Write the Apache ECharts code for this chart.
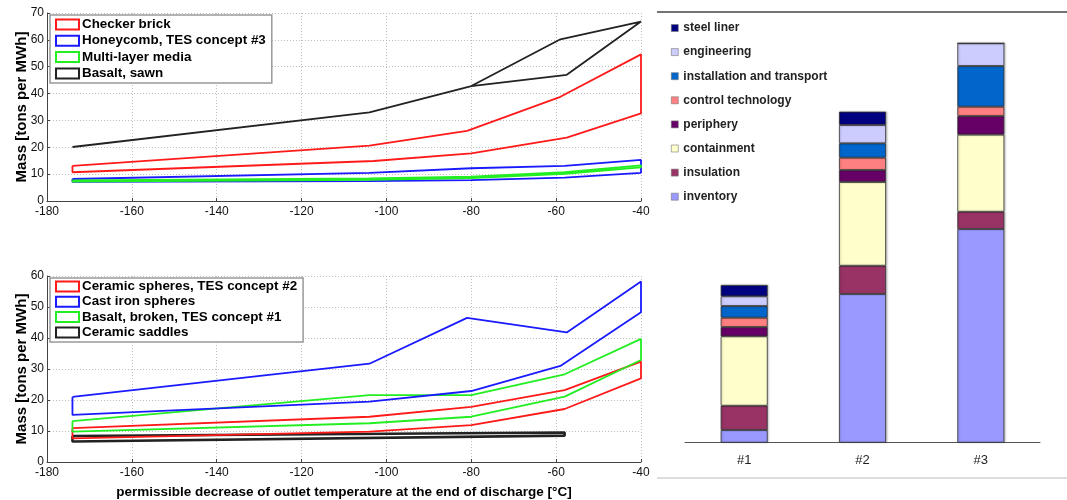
<!DOCTYPE html>
<html><head><meta charset="utf-8">
<script src="https://cdn.jsdelivr.net/npm/echarts@6/dist/echarts.min.js"></script>
<style>html,body{margin:0;padding:0;background:#fff}#c{width:1067px;height:500px}</style>
</head><body><div id="c"></div>
<script>
// ---------- Top-left panel: band outlines (upper edge / lower edge) ----------
const checkerUpX = [-174, -104, -81, -59, -40];
const checkerUpY = [13.1, 20.6, 26.1, 38.8, 54.6];
const checkerLoX = [-174, -103, -80, -57.5, -40];
const checkerLoY = [10.7, 14.9, 17.7, 23.6, 32.6];

const honeyUpX = [-174, -104, -80, -58, -40];
const honeyUpY = [8.2, 10.5, 12.2, 13.1, 15.3];
const honeyLoX = [-174, -104, -80, -58, -40];
const honeyLoY = [7.1, 7.4, 7.8, 8.7, 10.5];

const multiUpX = [-174, -104, -80, -58, -40];
const multiUpY = [7.7, 8.4, 9.1, 10.7, 13.3];
const multiLoX = [-174, -104, -80, -58, -40];
const multiLoY = [7.2, 7.9, 8.5, 10.1, 12.5];

const sawnUpX = [-174, -104, -80, -59, -40];
const sawnUpY = [20.1, 33.0, 42.8, 60.2, 66.8];
const sawnLoX = [-174, -104, -80, -57.5, -40];
const sawnLoY = [20.1, 33.0, 42.8, 47.0, 66.8];

// ---------- Bottom-left panel ----------
const sphereUpX = [-174, -104, -80, -58, -40];
const sphereUpY = [10.9, 14.6, 17.8, 23.2, 32.4];
const sphereLoX = [-174, -104, -80, -58, -40];
const sphereLoY = [7.6, 9.8, 11.9, 17.1, 27.0];

const ironUpX = [-174, -104, -81, -57.5, -40];
const ironUpY = [21.0, 31.7, 46.5, 41.8, 58.2];
const ironLoX = [-174, -104, -80, -59, -40];
const ironLoY = [15.2, 19.5, 22.9, 31.0, 48.3];

const brokenUpX = [-174, -104, -80, -58, -40];
const brokenUpY = [13.2, 21.6, 21.6, 28.3, 39.7];
const brokenLoX = [-174, -104, -80, -58, -40];
const brokenLoY = [9.8, 12.5, 14.6, 21.1, 32.9];

const saddleUpX = [-174, -58];
const saddleUpY = [8.4, 9.5];
const saddleLoX = [-174, -58];
const saddleLoY = [6.6, 8.5];

const topNames = ['Checker brick', 'Honeycomb, TES concept #3', 'Multi-layer media', 'Basalt, sawn'];
const botNames = ['Ceramic spheres, TES concept #2', 'Cast iron spheres', 'Basalt, broken, TES concept #1', 'Ceramic saddles'];

// ---------- Right panel: stacked cost bars (relative heights, no axis shown) ----------
const concepts = ['#1', '#2', '#3'];
const inventory    = [12.7, 148.7, 213.7];
const insulation   = [24.3, 28.3, 17.3];
const containment  = [69.4, 83.7, 77.0];
const periphery    = [9.3, 12.0, 18.7];
const controlTech  = [9.3, 12.3, 9.3];
const installation = [11.7, 14.4, 40.7];
const engineering  = [9.7, 18.3, 22.7];
const steelLiner   = [11.3, 13.3, 0];
const barNames = ['inventory', 'insulation', 'containment', 'periphery', 'control technology', 'installation and transport', 'engineering', 'steel liner'];

const FONT = '"Liberation Sans", Arial, sans-serif';
const RED = '#ff1a1a', BLUE = '#1a1aff', GREEN = '#22ee22', BLACK = '#222222';

function poly(ux, uy, lx, ly) {
  const pts = [];
  for (let i = 0; i < ux.length; i++) pts.push([ux[i], uy[i]]);
  for (let i = lx.length - 1; i >= 0; i--) pts.push([lx[i], ly[i]]);
  pts.push([ux[0], uy[0]]);
  return pts;
}

function bandSeries(name, color, idx, ux, uy, lx, ly, w) {
  return {
    name, type: 'line', xAxisIndex: idx, yAxisIndex: idx,
    data: poly(ux, uy, lx, ly), showSymbol: false, symbol: 'none',
    lineStyle: { color, width: w || 1.8 }, itemStyle: { color },
    silent: true, animation: false
  };
}

function leftX(idx, withName) {
  const ax = {
    type: 'value', gridIndex: idx, min: -180, max: -40, interval: 20,
    axisLine: { show: true, onZero: false, lineStyle: { color: '#444', width: 1 } },
    axisTick: { show: true, inside: true, length: 3, lineStyle: { color: '#444' } },
    axisLabel: { fontFamily: FONT, fontSize: 12, color: '#111', margin: 5 },
    splitLine: { show: true, lineStyle: { color: '#bdbdbd', type: [1, 2], width: 1 } }
  };
  if (withName) {
    ax.name = 'permissible decrease of outlet temperature at the end of discharge [°C]';
    ax.nameLocation = 'middle';
    ax.nameGap = 23;
    ax.nameMoveOverlap = false;
    ax.nameTextStyle = { fontFamily: FONT, fontSize: 13.5, fontWeight: 'bold', color: '#000' };
  }
  return ax;
}
function leftY(idx, max) {
  return {
    type: 'value', gridIndex: idx, min: 0, max, interval: 10,
    name: 'Mass [tons per MWh]', nameLocation: 'middle', nameGap: 18, nameMoveOverlap: false,
    nameTextStyle: { fontFamily: FONT, fontSize: 15, fontWeight: 'bold', color: '#000' },
    axisLine: { show: true, lineStyle: { color: '#444', width: 1 } },
    axisTick: { show: true, inside: true, length: 3, lineStyle: { color: '#444' } },
    axisLabel: { fontFamily: FONT, fontSize: 12, color: '#111', margin: 3 },
    splitLine: { show: true, lineStyle: { color: '#bdbdbd', type: [1, 2], width: 1 } }
  };
}

function legendItems(names, colors) {
  return names.map((n, i) => ({
    name: n, icon: 'rect',
    itemStyle: { color: '#fff', borderColor: colors[i], borderWidth: 2 }
  }));
}

const barColors = {
  'inventory': '#9999ff', 'insulation': '#993366', 'containment': '#ffffcc', 'periphery': '#660066',
  'control technology': '#ff8080', 'installation and transport': '#0066cc', 'engineering': '#ccccff', 'steel liner': '#000080'
};
const barData = [inventory, insulation, containment, periphery, controlTech, installation, engineering, steelLiner];

const series = [
  bandSeries(topNames[0], RED, 0, checkerUpX, checkerUpY, checkerLoX, checkerLoY),
  bandSeries(topNames[1], BLUE, 0, honeyUpX, honeyUpY, honeyLoX, honeyLoY),
  bandSeries(topNames[2], GREEN, 0, multiUpX, multiUpY, multiLoX, multiLoY),
  bandSeries(topNames[3], BLACK, 0, sawnUpX, sawnUpY, sawnLoX, sawnLoY),
  bandSeries(botNames[3], BLACK, 1, saddleUpX, saddleUpY, saddleLoX, saddleLoY, 2.6),
  bandSeries(botNames[0], RED, 1, sphereUpX, sphereUpY, sphereLoX, sphereLoY),
  bandSeries(botNames[2], GREEN, 1, brokenUpX, brokenUpY, brokenLoX, brokenLoY),
  bandSeries(botNames[1], BLUE, 1, ironUpX, ironUpY, ironLoX, ironLoY)
];
barNames.forEach((n, i) => {
  series.push({
    name: n, type: 'bar', stack: 'cost', xAxisIndex: 2, yAxisIndex: 2,
    barWidth: 47, data: barData[i], animation: false,
    itemStyle: { color: barColors[n], borderColor: '#333', borderWidth: 0.8,
      shadowColor: 'rgba(0,0,0,0.25)', shadowBlur: 2, shadowOffsetX: 1, shadowOffsetY: 0 }
  });
});

const chart = echarts.init(document.getElementById('c'), null, { renderer: 'canvas' });
chart.setOption({
  backgroundColor: '#fff',
  animation: false,
  grid: [
    { left: 47, top: 13, width: 594, height: 188, outerBoundsMode: 'none', containLabel: false },
    { left: 47, top: 276, width: 594, height: 186, outerBoundsMode: 'none', containLabel: false },
    { left: 685, top: 12, width: 355, height: 430.7, outerBoundsMode: 'none', containLabel: false }
  ],
  xAxis: [
    leftX(0, false),
    leftX(1, true),
    { type: 'category', gridIndex: 2, data: concepts,
      axisLine: { show: true, lineStyle: { color: '#555', width: 1 } },
      axisTick: { show: false },
      axisLabel: { fontFamily: FONT, fontSize: 13, color: '#222', margin: 11 } }
  ],
  yAxis: [
    leftY(0, 70),
    leftY(1, 60),
    { type: 'value', gridIndex: 2, min: 0, max: 430.7, show: false }
  ],
  legend: [
    { orient: 'vertical', left: 50, top: 15, padding: [2, 6, 2, 5], itemGap: 1.3,
      itemWidth: 23, itemHeight: 10, backgroundColor: '#fff', borderColor: '#999', borderWidth: 1.5,
      data: legendItems(topNames, [RED, BLUE, GREEN, BLACK]), selectedMode: false,
      textStyle: { fontFamily: FONT, fontSize: 13.4, fontWeight: 'bold', color: '#000', lineHeight: 15, padding: [0, 0, 0, -2] } },
    { orient: 'vertical', left: 50, top: 278, padding: [1, 6, 2, 5], itemGap: 0.3,
      itemWidth: 23, itemHeight: 10, backgroundColor: '#fff', borderColor: '#999', borderWidth: 1.5,
      data: legendItems(botNames, [RED, BLUE, GREEN, BLACK]), selectedMode: false,
      textStyle: { fontFamily: FONT, fontSize: 13.4, fontWeight: 'bold', color: '#000', lineHeight: 15, padding: [0, 0, 0, -2] } },
    { orient: 'vertical', left: 671, top: 21, padding: 0, itemGap: 10.1,
      itemWidth: 7, itemHeight: 7, selectedMode: false,
      data: barNames.slice().reverse().map(n => ({ name: n, icon: 'rect',
        itemStyle: { color: barColors[n], borderColor: '#777', borderWidth: 0.6 } })),
      textStyle: { fontFamily: FONT, fontSize: 12, fontWeight: 'bold', color: '#222', lineHeight: 14 } }
  ],
  graphic: [
    { type: 'line', shape: { x1: 657, y1: 12, x2: 1067, y2: 12 }, style: { stroke: '#444', lineWidth: 1.5 }, silent: true },
    { type: 'line', shape: { x1: 657, y1: 478, x2: 1067, y2: 478 }, style: { stroke: '#bbb', lineWidth: 1 }, silent: true }
  ],
  series
});
</script></body></html>
